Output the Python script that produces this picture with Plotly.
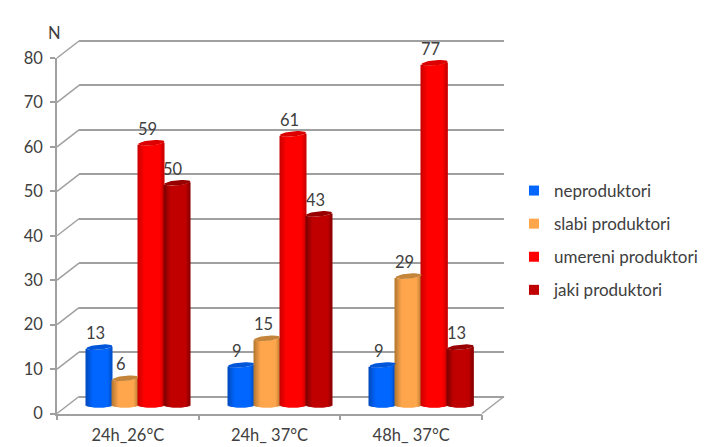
import math
import plotly.graph_objects as go

# ---- data ----
categories = ["24h_26°C", "24h_ 37°C", "48h_ 37°C"]
neproduktori = [13, 9, 9]
slabi_produktori = [6, 15, 29]
umereni_produktori = [59, 61, 77]
jaki_produktori = [50, 43, 13]
series_names = ["neproduktori", "slabi produktori", "umereni produktori", "jaki produktori"]
y_ticks = [0, 10, 20, 30, 40, 50, 60, 70, 80]

series_values = [neproduktori, slabi_produktori, umereni_produktori, jaki_produktori]
solid = ["#0066ff", "#ffa64d", "#ff0000", "#c00000"]
edge_l = ["#0048b8", "#b0752f", "#c80000", "#7a0000"]
edge_r = ["#0050c8", "#c08035", "#c80000", "#8a0000"]
top_c = ["#0056d8", "#c4853a", "#dc0000", "#980000"]

W, H = 715, 447
GRID = "#a0a0a0"
TXT = "#404040"
FONT = "Lato"
FS = 16.5

# geometry, pixels
fx0, fx1, fy0, fy80 = 57.0, 482.0, 413.5, 58.0
dx_back, dy_back = 22.0, 17.0
px_unit = (fy0 - fy80) / 80
bar_x0, bar_x1 = fx0 + 10.5, fx1 + 10.5
bar_y0 = 405.0
ylo, yhi = -5.0, 85.0
px_cat = (bar_x1 - bar_x0) / 3
bar_w_px = 26.0
n_strip = 26
ell_b, ell_tilt = 2.6, 1.2


def px(v):
    return v / W


def py(v):
    return 1 - v / H


def lerp_hex(a, b, t):
    ca = [int(a[i:i + 2], 16) for i in (1, 3, 5)]
    cb = [int(b[i:i + 2], 16) for i in (1, 3, 5)]
    return "rgb(%d,%d,%d)" % tuple(round(ca[i] + (cb[i] - ca[i]) * t) for i in range(3))


fig = go.Figure()

# invisible carriers for front axes and back wall
fig.add_trace(go.Scatter(x=categories, y=[None] * 3, xaxis="x", yaxis="y", showlegend=False,
                         hoverinfo="skip", mode="markers"))
fig.add_trace(go.Scatter(x=[0], y=[None], xaxis="x2", yaxis="y2", showlegend=False,
                         hoverinfo="skip", mode="markers"))

annotations = []
for s, (name, vals) in enumerate(zip(series_names, series_values)):
    xs, ys, bases, cols, widths = [], [], [], [], []
    ex, ey = [], []
    for g, v in enumerate(vals):
        cx = g + (s - 1.5) * bar_w_px / px_cat
        for k in range(n_strip):
            u = -1 + (k + 0.5) * 2 / n_strip
            root = math.sqrt(1 - u * u)
            xs.append(cx + u * bar_w_px / 2 / px_cat)
            widths.append(1.4 / px_cat)
            bases.append(-ell_b * root / px_unit)
            ys.append(v + ell_tilt * u / px_unit)
            if u < 0:
                t = min(1, (u + 1) / 0.55)
                cols.append(lerp_hex(edge_l[s], solid[s], t))
            else:
                t = min(1, (1 - u) / 0.3)
                cols.append(lerp_hex(edge_r[s], solid[s], t))
        for i in range(41):
            a = 2 * math.pi * i / 40
            ex.append(cx + (bar_w_px / 2) * math.cos(a) / px_cat)
            ey.append(v + (ell_b * math.sin(a) + ell_tilt * math.cos(a)) / px_unit)
        ex.append(None)
        ey.append(None)
        annotations.append(dict(x=cx, y=v, xref="x3", yref="y3", text=str(v), showarrow=False,
                                xshift=-4, yshift=14, font=dict(family=FONT, size=FS, color=TXT)))
    fig.add_trace(go.Bar(x=xs, y=ys, base=bases, width=widths, xaxis="x3", yaxis="y3",
                         marker=dict(color=cols, line=dict(width=0)), name=name,
                         showlegend=False, hoverinfo="skip"))
    fig.add_trace(go.Scatter(x=ex, y=ey, xaxis="x3", yaxis="y3", mode="lines", fill="toself",
                             fillcolor=top_c[s], line=dict(width=0), showlegend=False,
                             hoverinfo="skip"))
    # legend entry
    fig.add_trace(go.Scatter(x=[None], y=[None], xaxis="x3", yaxis="y3", mode="markers", name=name,
                             legendgroup=name,
                             marker=dict(symbol="square", size=10, color=solid[s])))

annotations.append(dict(x=px(46), y=py(21), xref="paper", yref="paper", text="N", showarrow=False,
                        font=dict(family=FONT, size=FS, color=TXT)))

shapes = []
for v in y_ticks:
    yp = fy0 - v * px_unit
    shapes.append(dict(type="line", xref="paper", yref="paper", layer="below",
                       x0=px(fx0), y0=py(yp), x1=px(fx0 + dx_back), y1=py(yp - dy_back),
                       line=dict(color=GRID, width=1.5)))
shapes.append(dict(type="line", xref="paper", yref="paper", layer="below",
                   x0=px(fx1), y0=py(fy0), x1=px(fx1 + dx_back), y1=py(fy0 - dy_back),
                   line=dict(color=GRID, width=1.5)))

back_y0 = fy0 - dy_back
fig.update_layout(
    width=W, height=H, margin=dict(l=0, r=0, t=0, b=0), autosize=False,
    paper_bgcolor="white", plot_bgcolor="rgba(0,0,0,0)",
    barmode="overlay", annotations=annotations, shapes=shapes,
    font=dict(family=FONT, size=FS, color=TXT),
    legend=dict(x=px(514), y=py(173), xanchor="left", yanchor="top", tracegroupgap=8,
                font=dict(family=FONT, size=17, color=TXT), bgcolor="rgba(0,0,0,0)"),
    xaxis=dict(domain=[px(fx0), px(fx1)], type="category", categoryorder="array",
               categoryarray=categories, range=[-0.5, 2.5], tickson="boundaries", ticks="outside",
               ticklen=5, tickcolor=GRID, tickwidth=1.5, showline=True, linecolor=GRID, linewidth=1.5,
               showgrid=False, anchor="y", tickfont=dict(size=FS, color=TXT), ticklabelstandoff=6,
               automargin=False),
    yaxis=dict(domain=[py(fy0), py(fy80)], range=[0, 80], tickvals=y_ticks, ticks="outside",
               ticklen=5, tickcolor=GRID, tickwidth=1.5, showline=True, linecolor=GRID, linewidth=1.5,
               showgrid=False, zeroline=False, anchor="x", tickfont=dict(size=FS, color=TXT),
               ticklabelstandoff=4, automargin=False),
    xaxis2=dict(domain=[px(fx0 + dx_back), px(fx1 + dx_back)], range=[0, 1], visible=False, anchor="y2",
                automargin=False),
    yaxis2=dict(domain=[py(back_y0 - ylo * px_unit), py(back_y0 - yhi * px_unit)], range=[ylo, yhi],
                tickvals=y_ticks, showgrid=True, gridcolor=GRID, gridwidth=1.5, zeroline=False,
                showline=False, showticklabels=False, ticks="", anchor="x2", automargin=False),
    xaxis3=dict(domain=[px(bar_x0), px(bar_x1)], range=[-0.5, 2.5], visible=False, anchor="y3",
                automargin=False),
    yaxis3=dict(domain=[py(bar_y0 - ylo * px_unit), py(bar_y0 - yhi * px_unit)], range=[ylo, yhi],
                visible=False, anchor="x3", automargin=False),
)

fig.write_html("out.html", config={"displayModeBar": False},
               post_script="document.body.style.margin='0';")
